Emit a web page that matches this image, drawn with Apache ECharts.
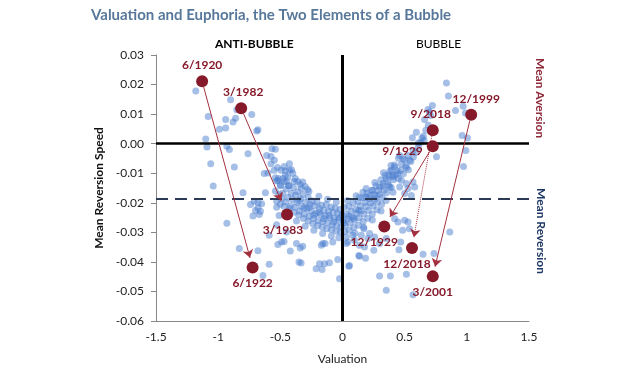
<!DOCTYPE html>
<html><head><meta charset="utf-8">
<script src="https://cdn.jsdelivr.net/npm/echarts@6/dist/echarts.min.js"></script>
<style>html,body{margin:0;padding:0;background:#fff}#c{width:622px;height:382px}</style>
</head><body><div id="c"></div>
<script>
// ---- data ----
const titleText = 'Valuation and Euphoria, the Two Elements of a Bubble';
const xTicks = [-1.5, -1, -0.5, 0, 0.5, 1, 1.5];
const yTicks = [-0.06, -0.05, -0.04, -0.03, -0.02, -0.01, 0.00, 0.01, 0.02, 0.03];
const meanReversionLevel = -0.0185;

const outliers = [
 [-1.18,0.0178],[-1.08,0.0092],[-1.10,0.0016],[-1.09,-0.0011],[-1.06,-0.0068],[-1.04,-0.0143],
 [-0.99,0.0049],[-0.94,0.0082],[-0.94,0.0053],[-0.90,0.0149],[-0.88,0.0073],[-0.86,0.0086],[-0.85,0.0115],
 [-0.93,-0.0009],[-0.91,-0.0020],[-0.87,-0.0079],[-0.80,-0.0166],[-0.73,0.0099],[-0.69,0.0043],[-0.68,0.0047],
 [-0.76,-0.0034],[-0.567,-0.0017],[-0.54,-0.0019],[-0.61,-0.0040],[-0.575,-0.0043],[-0.548,-0.0056],
 [-0.575,-0.0068],[-0.522,-0.0081],[-0.468,-0.0077],[-0.427,-0.0068],[-0.494,-0.0090],[-0.427,-0.0090],
 [-0.63,-0.0101],[-0.60,-0.0099],[-0.55,-0.0090],[-0.54,-0.0115],[-0.53,-0.0126],[-0.46,-0.0092],[-0.41,-0.0088],[-0.44,-0.0113],
 [-0.74,-0.0206],[-0.71,-0.0195],[-0.68,-0.0200],[-0.65,-0.0203],[-0.68,-0.0218],[-0.66,-0.0229],[-0.70,-0.0226],[-0.72,-0.0245],[-0.67,-0.0240],[-0.62,-0.0166],
 [-0.93,-0.0269],[-0.83,-0.0355],[-0.68,-0.0362],[-0.59,-0.0408],[-0.64,-0.0446],
 [-0.52,-0.0341],[-0.49,-0.0333],[-0.47,-0.0331],[-0.53,-0.0274],[-0.51,-0.0243],[-0.53,-0.0215],[-0.45,-0.0299],[-0.59,-0.0310],
 [-0.42,-0.0363],[-0.34,-0.0353],[-0.37,-0.0338],[-0.35,-0.0400],[-0.333,-0.0404],[-0.32,-0.0347],
 [-0.185,-0.0406],[-0.145,-0.0406],[-0.105,-0.0403],[-0.212,-0.0423],[-0.164,-0.0426],[-0.038,-0.0392],[-0.024,-0.0457],
 [-0.17,-0.0344],[-0.14,-0.0338],[-0.159,-0.0338],[-0.078,-0.0333],[0.03,-0.0338],[0.097,-0.0327],[0.151,-0.0310],
 [0.204,-0.0321],[0.258,-0.0316],[0.298,-0.0338],[0.352,-0.0321],[0.863,-0.0299],
 [0.056,-0.0412],[0.131,-0.0378],[0.185,-0.0388],[0.252,-0.0361],[0.454,-0.0359],[0.648,-0.0374],[0.736,-0.0372],
 [0.298,-0.0448],[0.385,-0.0448],[0.514,-0.0442],[0.352,-0.0496],[0.567,-0.0511],[0.137,-0.0381],[0.051,-0.0415],[0.468,-0.0333],
 [0.50,-0.0259],[0.527,-0.0265],[0.446,-0.0265],[0.419,-0.0254],[0.538,-0.0288],[0.484,-0.0293],
 [0.172,-0.0288],[0.218,-0.0304],[0.083,-0.0310],[0.043,-0.0333],[0.137,-0.0344],[0.177,-0.0350],
 [0.836,0.0205],[0.852,0.0161],[0.970,0.0127],[0.909,0.0112],[0.989,0.0104],[0.688,0.0116],[0.723,0.0129],[0.70,0.0107],
 [0.594,0.0039],[0.562,0.0020],[0.640,0.0019],[0.656,0.0011],[0.610,0.0002],[0.756,-0.0044],[0.962,0.0028],[1.005,0.0019],
 [0.992,-0.0023],[0.973,-0.0077],
 [0.567,-0.0023],[0.527,-0.0040],[0.50,-0.0054],[0.473,-0.0070],[0.486,-0.0051],[0.54,-0.0056],[0.46,-0.0040],[0.514,-0.0081],
 [0.393,-0.0090],[0.419,-0.0079],[0.373,-0.0107],[0.406,-0.0113],[0.446,-0.0101],[0.473,-0.0124],[0.514,-0.0135],[0.567,-0.0130],
 [0.581,-0.0147],[0.527,-0.0152],[0.46,-0.0147],[0.325,-0.0135],[0.352,-0.0118],[0.298,-0.0147],[0.244,-0.0158],[0.272,-0.0175],
 [0.218,-0.0175],[0.191,-0.0181],[0.137,-0.0181],[0.164,-0.0164],[0.379,-0.0147],[0.406,-0.0164],[0.50,-0.0169],[0.554,-0.0175]
];

const armPoints = [
 [0.47,-0.0090],[0.51,-0.0075],[0.55,-0.0060],[0.57,-0.0045],[0.59,-0.0030],[0.61,-0.0012],[0.63,0.0005],[0.65,0.0025],
 [0.67,0.0045],[0.69,0.0062],[0.66,0.0082],[0.71,0.0095],[0.49,-0.0102],[0.53,-0.0088],[0.45,-0.0118],[0.43,-0.0105],
 [-0.40,-0.0100],[-0.38,-0.0118],[-0.36,-0.0128],[-0.34,-0.0138],[-0.32,-0.0130],[-0.30,-0.0145],[-0.28,-0.0155],
 [-0.52,-0.0125],[-0.50,-0.0140],[-0.48,-0.0118],[-0.45,-0.0128],[-0.43,-0.0142],[-0.54,-0.0160],[-0.51,-0.0172],
 [-0.53,-0.0195],[-0.50,-0.0205]
];

const cluster = [
 [-0.515,-0.0118],[-0.47,-0.0128],[-0.435,-0.0142],[-0.395,-0.0148],[-0.36,-0.0163],[-0.318,-0.0172],[-0.277,-0.0181],
 [-0.244,-0.0194],[-0.205,-0.0197],[-0.168,-0.0208],[-0.131,-0.0206],[-0.092,-0.0214],[-0.058,-0.0218],[-0.021,-0.0223],
 [0.013,-0.0215],[0.052,-0.0212],[0.087,-0.0201],[0.124,-0.0196],[0.163,-0.0183],[0.198,-0.0168],[0.236,-0.0158],
 [0.271,-0.0142],[0.309,-0.0122],[0.344,-0.0108],[0.381,-0.0093],[0.418,-0.0072],
 [-0.498,-0.0142],[-0.452,-0.0153],[-0.412,-0.0168],[-0.377,-0.0174],[-0.338,-0.0186],[-0.297,-0.0197],[-0.262,-0.0205],
 [-0.224,-0.0211],[-0.186,-0.0219],[-0.149,-0.0225],[-0.112,-0.0228],[-0.075,-0.0233],[-0.038,-0.0236],[-0.004,-0.0241],
 [0.031,-0.0237],[0.069,-0.0229],[0.106,-0.0222],[0.143,-0.0211],[0.181,-0.0198],[0.217,-0.0186],[0.254,-0.0173],
 [0.29,-0.0158],[0.327,-0.0143],[0.363,-0.0128],[0.40,-0.0108],[0.44,-0.0092],
 [-0.482,-0.0168],[-0.441,-0.0181],[-0.403,-0.0189],[-0.366,-0.0198],[-0.329,-0.0212],[-0.288,-0.0219],[-0.251,-0.0228],
 [-0.215,-0.0236],[-0.177,-0.0240],[-0.14,-0.0244],[-0.101,-0.0251],[-0.066,-0.0253],[-0.029,-0.0258],[0.006,-0.0259],
 [0.041,-0.0255],[0.078,-0.0248],[0.115,-0.0236],[0.152,-0.0227],[0.19,-0.0213],[0.226,-0.0201],[0.262,-0.0188],
 [0.299,-0.0172],[0.335,-0.0158],[0.372,-0.0141],[0.41,-0.0122],
 [-0.49,-0.0186],[-0.456,-0.0197],[-0.418,-0.0211],[-0.382,-0.0215],[-0.345,-0.0229],[-0.306,-0.0238],[-0.268,-0.0246],
 [-0.232,-0.0253],[-0.195,-0.0261],[-0.158,-0.0263],[-0.12,-0.0268],[-0.083,-0.0274],[-0.047,-0.0277],[-0.012,-0.0281],
 [0.022,-0.0276],[0.06,-0.0268],[0.096,-0.0259],[0.134,-0.0251],[0.171,-0.0238],[0.208,-0.0226],[0.245,-0.0211],
 [0.281,-0.0198],[0.318,-0.0182],[0.354,-0.0166],[0.392,-0.0148],
 [-0.47,-0.0212],[-0.428,-0.0219],[-0.39,-0.0232],[-0.352,-0.0241],[-0.314,-0.0253],[-0.276,-0.0262],[-0.238,-0.0271],
 [-0.20,-0.0277],[-0.163,-0.0282],[-0.126,-0.0288],[-0.088,-0.0291],[-0.051,-0.0296],[-0.016,-0.0299],[0.018,-0.0297],
 [0.054,-0.0293],[0.091,-0.0284],[0.129,-0.0276],[0.166,-0.0263],[0.203,-0.0252],[0.24,-0.0238],[0.277,-0.0224],
 [0.314,-0.0206],[0.35,-0.0192],
 [-0.44,-0.0238],[-0.37,-0.0262],[-0.30,-0.0279],[-0.23,-0.0293],[-0.16,-0.0304],[-0.09,-0.0312],[-0.03,-0.0318],
 [0.03,-0.0316],[0.10,-0.0303],[0.17,-0.0283],[0.24,-0.0258],[0.31,-0.0228],
 [-0.46,-0.0108],[-0.39,-0.0128],[-0.33,-0.0151],[-0.27,-0.0162],[-0.19,-0.0178],[-0.12,-0.0188],[-0.05,-0.0197],
 [0.04,-0.0192],[0.11,-0.0176],[0.19,-0.0152],[0.26,-0.0131],[0.33,-0.0098],[0.39,-0.0074],[0.45,-0.0049],
 [-0.35,-0.0192],[-0.31,-0.0218],[-0.27,-0.0216],[-0.23,-0.0241],[-0.19,-0.0232],[-0.15,-0.0254],[-0.11,-0.0243],
 [-0.07,-0.0264],[-0.03,-0.0251],[0.01,-0.0268],[0.05,-0.0246],[0.09,-0.0252],[0.13,-0.0226]
];

const eventNames = ['6/1920','6/1922','3/1982','3/1983','9/1929','12/1929','9/2018','12/2018','12/1999','3/2001'];
const eventX     = [-1.129, -0.723, -0.815, -0.446, 0.726, 0.336, 0.726, 0.559, 1.035, 0.726];
const eventY     = [0.0211, -0.0419, 0.0120, -0.0240, -0.0009, -0.0280, 0.0045, -0.0353, 0.0098, -0.0449];

const arrowFrom = ['6/1920','3/1982','9/1929','9/2018','12/1999'];
const arrowTo   = ['6/1922','3/1983','12/1929','12/2018','3/2001'];

// ---- styles ----
const RED = '#861a2a';
const labelPos = {
 '6/1920':{position:'top',offset:[0,0]}, '3/1982':{position:'top',offset:[2,0]},
 '3/1983':{position:'bottom',offset:[-4,0]}, '6/1922':{position:'bottom',offset:[0,0]},
 '9/2018':{position:'top',offset:[-2,0]}, '9/1929':{position:'left',offset:[0,5]},
 '12/1999':{position:'top',offset:[5,0]}, '12/1929':{position:'bottom',offset:[-10,0]},
 '12/2018':{position:'bottom',offset:[-5,0]}, '3/2001':{position:'bottom',offset:[0,0]}
};
const arrowStyle = [
 {type:'solid', s:6, e:10}, {type:'solid', s:6, e:15}, {type:'solid', s:6, e:11},
 {type:'dotted', s:6, e:11}, {type:'solid', s:6, e:10}
];
const FONT = 'Lato';

const chart = echarts.init(document.getElementById('c'), null, {renderer:'canvas'});
const eventData = eventNames.map((n,i)=>({name:n, value:[eventX[i], eventY[i]], label:labelPos[n]}));

const option = {
  animation:false,
  textStyle:{fontFamily:FONT},
  title:{text:titleText, left:86, top:3, textStyle:{fontFamily:FONT, fontSize:15, fontWeight:'bold', color:'#57789b'}},
  grid:{left:156, right:93, top:55, bottom:61, containLabel:false},
  xAxis:{type:'value', min:xTicks[0], max:xTicks[xTicks.length-1], interval:0.5,
    name:'Valuation', nameLocation:'middle', nameGap:32, nameTextStyle:{fontFamily:FONT, fontSize:12, color:'#222'},
    axisLine:{onZero:false, lineStyle:{color:'#888', width:1}}, axisTick:{show:false},
    splitLine:{show:false}, axisLabel:{fontFamily:FONT, fontSize:12, color:'#222', margin:10}},
  yAxis:{type:'value', min:yTicks[0], max:yTicks[yTicks.length-1], interval:0.01,
    name:'Mean Reversion Speed', nameLocation:'middle', nameGap:44, nameRotate:90,
    nameTextStyle:{fontFamily:FONT, fontSize:12, fontWeight:'bold', color:'#111'},
    axisLine:{show:true, onZero:false, lineStyle:{color:'#888', width:1}}, axisTick:{show:true, length:5, lineStyle:{color:'#888'}},
    splitLine:{show:false}, axisLabel:{fontFamily:FONT, fontSize:12, color:'#222', margin:12, formatter:v=>v.toFixed(2)}},
  series:[
    {type:'scatter', name:'obs', data:outliers.concat(armPoints, cluster), symbolSize:7, silent:true,
     itemStyle:{color:'rgba(68,122,204,0.48)', opacity:1}, z:2},
    {type:'scatter', name:'refs', data:[], silent:true, z:3,
     markLine:{silent:true, symbol:'none', precision:6, label:{show:false}, animation:false,
       data:[
         {xAxis:0, lineStyle:{color:'#000', width:3, type:'solid'}},
         {yAxis:0, lineStyle:{color:'#000', width:2.5, type:'solid'}},
         {yAxis:meanReversionLevel, lineStyle:{color:'#2c3b55', width:2, type:[12,7]}}
       ]}},
    {type:'scatter', name:'events', data:eventData, symbolSize:12, z:5, silent:true,
     itemStyle:{color:RED, opacity:1},
     label:{show:true, formatter:'{b}', fontFamily:FONT, fontSize:12, fontWeight:'bold', color:RED, distance:4}}
  ],
  graphic:[
    {type:'text', left:215, top:38, style:{text:'ANTI-BUBBLE', font:'bold 12px '+FONT, fill:'#000'}},
    {type:'text', left:416, top:38, style:{text:'BUBBLE', font:'12px '+FONT, fill:'#000'}},
    {type:'text', x:546, y:58, rotation:-Math.PI/2, style:{text:'Mean Aversion', font:'bold 12px '+FONT, fill:'#8e2a3a'}},
    {type:'text', x:547, y:188, rotation:-Math.PI/2, style:{text:'Mean Reversion', font:'bold 12px '+FONT, fill:'#1f3864'}}
  ]
};
chart.setOption(option);

// arrows between events, shortened in pixel space
const idx = n => eventNames.indexOf(n);
const arrowLines = arrowFrom.map((f,i)=>{
  const a = [eventX[idx(f)], eventY[idx(f)]], b = [eventX[idx(arrowTo[i])], eventY[idx(arrowTo[i])]];
  const pa = chart.convertToPixel({gridIndex:0}, a), pb = chart.convertToPixel({gridIndex:0}, b);
  const dx = pb[0]-pa[0], dy = pb[1]-pa[1], L = Math.sqrt(dx*dx+dy*dy);
  const st = arrowStyle[i];
  const s = [pa[0]+dx*st.s/L, pa[1]+dy*st.s/L], e = [pb[0]-dx*st.e/L, pb[1]-dy*st.e/L];
  return [
    {coord: chart.convertFromPixel({gridIndex:0}, s), lineStyle:{type:st.type}},
    {coord: chart.convertFromPixel({gridIndex:0}, e)}
  ];
});
chart.setOption({series:[{}, {}, {
  markLine:{silent:true, symbol:['none','arrow'], symbolSize:8, precision:6, label:{show:false}, animation:false,
    lineStyle:{color:'#a3303f', width:1}, data:arrowLines}
}]});
</script></body></html>
